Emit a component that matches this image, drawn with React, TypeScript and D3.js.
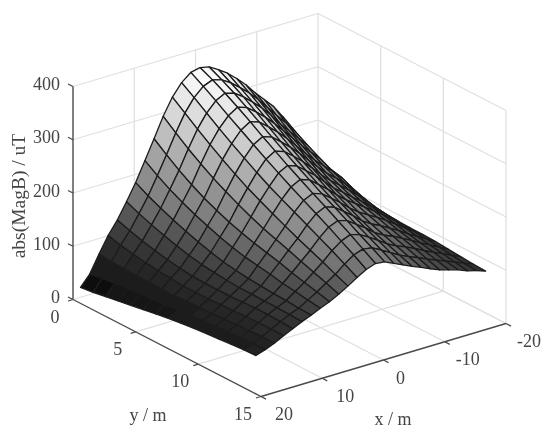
import { useEffect, useRef } from 'react'
import * as d3 from 'd3'

const xValues = [20, 18.5, 17, 15.5, 14, 12.5, 11, 9.5, 8, 6.5, 5, 3.5, 2, 0.5, -1, -2.5, -4, -5.5, -7, -8.5, -10, -11.5, -13, -14.5, -16, -17.5]
const yValues = [0.6, 1.6, 2.6, 3.6, 4.6, 5.6, 6.6, 7.6, 8.6, 9.6, 10.6, 11.6, 12.6, 13.6, 14.6]

// abs(MagB), one row per y value
const magB = [
  [30, 50, 82, 112, 136, 165, 196, 232, 268, 305, 336, 358, 372, 376, 372, 362, 350, 335, 318, 298, 280, 262, 238, 210, 183, 155],
  [33, 54, 80, 106, 128, 155, 183, 216, 250, 286, 318, 342, 358, 365, 360, 349, 335, 320, 302, 282, 262, 243, 222, 193, 166, 140],
  [37, 57, 79, 101, 121, 146, 172, 202, 233, 268, 300, 325, 343, 352, 347, 335, 320, 304, 285, 264, 245, 226, 208, 180, 155, 131],
  [41, 59, 78, 97, 115, 138, 162, 190, 218, 252, 283, 308, 327, 338, 332, 319, 304, 287, 268, 249, 230, 212, 195, 172, 148, 124],
  [45, 61, 78, 94, 110, 131, 153, 179, 205, 237, 267, 292, 312, 323, 317, 303, 288, 271, 252, 233, 215, 199, 183, 166, 144, 119],
  [49, 63, 77, 92, 106, 125, 145, 170, 194, 224, 252, 277, 297, 307, 301, 287, 272, 255, 237, 219, 202, 188, 172, 155, 135, 115],
  [53, 65, 77, 90, 103, 120, 138, 161, 184, 212, 238, 262, 282, 292, 286, 272, 257, 240, 222, 206, 192, 178, 163, 147, 129, 112],
  [57, 67, 78, 90, 102, 117, 132, 154, 176, 201, 226, 248, 268, 277, 271, 257, 243, 226, 209, 196, 182, 169, 155, 141, 126, 111],
  [60, 69, 79, 90, 102, 115, 128, 148, 169, 191, 214, 236, 254, 263, 257, 243, 229, 213, 199, 187, 175, 163, 150, 137, 123, 110],
  [63, 71, 80, 91, 102, 113, 125, 144, 163, 183, 203, 224, 241, 249, 243, 230, 216, 201, 188, 178, 168, 157, 145, 133, 121, 110],
  [65, 73, 82, 92, 103, 113, 123, 140, 157, 175, 192, 212, 228, 236, 230, 217, 204, 189, 178, 170, 160, 150, 139, 129, 119, 109],
  [67, 75, 83, 93, 104, 112, 121, 135, 150, 166, 182, 200, 215, 222, 217, 205, 193, 179, 169, 162, 153, 144, 134, 125, 116, 107],
  [69, 76, 84, 94, 104, 112, 120, 132, 144, 158, 172, 188, 201, 208, 203, 193, 182, 170, 161, 154, 146, 137, 129, 121, 113, 105],
  [71, 78, 85, 94, 103, 111, 118, 128, 138, 150, 161, 175, 187, 193, 190, 181, 171, 161, 153, 146, 138, 131, 124, 117, 110, 103],
  [72, 78, 85, 94, 102, 110, 117, 125, 132, 141, 151, 162, 172, 178, 176, 168, 160, 152, 145, 137, 130, 125, 120, 113, 108, 102],
]

const xTicks = [-20, -10, 0, 10, 20]
const yTicks = [0, 5, 10, 15]
const zTicks = [0, 100, 200, 300, 400]

const FONT = '"Liberation Serif", serif'
const INK = '#444'
const GRID = '#e0e0e0'

const App = () => {
  const ref = useRef<SVGSVGElement>(null)

  useEffect(() => {
    const root = d3.select(ref.current)
    root.selectAll('*').remove()

    // the reference is a soft scan, so everything gets a slight blur
    root.append('defs').append('filter')
      .attr('id', 'soft')
      .append('feGaussianBlur')
      .attr('stdDeviation', 0.45)
    const svg = root.append('g').attr('filter', 'url(#soft)')

    // oblique projection, each data axis adds its own screen offset
    const xToLeft = d3.scaleLinear().domain([20, -20]).range([0, 245])
    const xToUp = d3.scaleLinear().domain([20, -20]).range([0, -73])
    const yToLeft = d3.scaleLinear().domain([0, 15]).range([0, 188])
    const yToUp = d3.scaleLinear().domain([0, 15]).range([0, 97])
    const zToUp = d3.scaleLinear().domain([0, 400]).range([0, -213])

    const px = (x: number, y: number) => 73 + xToLeft(x) + yToLeft(y)
    const py = (x: number, y: number, z: number) => 299.5 + xToUp(x) + yToUp(y) + zToUp(z)

    const gray = d3.scaleLinear<string>()
      .domain([0, 30, 75, 110, 140, 180, 250, 300, 376])
      .range(['#000000', '#0a0a0a', '#202020', '#353535', '#505050', '#7c7c7c', '#a8a8a8', '#d0d0d0', '#ffffff'])

    const seg = (a: number[], b: number[], stroke: string, width: number) => {
      svg.append('line')
        .attr('x1', px(a[0], a[1])).attr('y1', py(a[0], a[1], a[2]))
        .attr('x2', px(b[0], b[1])).attr('y2', py(b[0], b[1], b[2]))
        .attr('stroke', stroke)
        .attr('stroke-width', width)
    }

    // back walls and floor
    zTicks.forEach(z => {
      seg([20, 0, z], [-20, 0, z], GRID, 1.3)
      seg([-20, 0, z], [-20, 15, z], GRID, 1.3)
    })
    xTicks.slice(0, 4).forEach(x => {
      seg([x, 0, 0], [x, 0, 400], GRID, 1.3)
      seg([x, 0, 0], [x, 15, 0], GRID, 1.3)
    })
    yTicks.slice(1).forEach(y => {
      seg([-20, y, 0], [-20, y, 400], GRID, 1.3)
      if (y < 15) seg([-20, y, 0], [20, y, 0], GRID, 1.3)
    })

    // axes
    seg([20, 0, 0], [20, 0, 400], '#4a4a4a', 1.4)
    seg([20, 0, 0], [20, 15, 0], '#4a4a4a', 1.4)
    seg([20, 15, 0], [-20, 15, 0], '#4a4a4a', 1.4)
    const tickLine = (x: number, y: number, z: number, dx: number, dy: number) => {
      svg.append('line')
        .attr('x1', px(x, y)).attr('y1', py(x, y, z))
        .attr('x2', px(x, y) + dx).attr('y2', py(x, y, z) + dy)
        .attr('stroke', '#4a4a4a').attr('stroke-width', 1.3)
    }
    zTicks.forEach(z => tickLine(20, 0, z, -5, -2.5))
    yTicks.forEach(y => tickLine(20, y, 0, -5, 1.5))
    xTicks.forEach(x => tickLine(x, 15, 0, 5, 2.6))

    // surface patches, far ones first
    const patches: { pts: [number, number][]; z: number; depth: number }[] = []
    for (let j = 0; j < yValues.length - 1; j++) {
      for (let i = 0; i < xValues.length - 1; i++) {
        const corners = [[i, j], [i + 1, j], [i + 1, j + 1], [i, j + 1]]
        const zs = corners.map(([a, b]) => magB[b][a])
        patches.push({
          pts: corners.map(([a, b]) => [px(xValues[a], yValues[b]), py(xValues[a], yValues[b], magB[b][a])]),
          z: d3.mean(zs) as number,
          depth: py(xValues[i], yValues[j], 0),
        })
      }
    }
    patches.sort((a, b) => a.depth - b.depth)
    const line = d3.line().curve(d3.curveLinearClosed)
    svg.append('g').selectAll('path')
      .data(patches)
      .enter().append('path')
      .attr('d', d => line(d.pts))
      .attr('fill', d => gray(d.z))
      .attr('stroke', '#1c1c1c')
      .attr('stroke-width', 1.3)
      .attr('stroke-linejoin', 'round')

    // labels
    const label = (x: number, y: number, s: string, anchor = 'middle') =>
      svg.append('text')
        .attr('x', x).attr('y', y)
        .attr('text-anchor', anchor)
        .attr('font-family', FONT)
        .attr('font-size', 18)
        .attr('fill', INK)
        .text(s)

    zTicks.forEach(z => label(60, py(20, 0, z) + 3.5, String(z), 'end'))
    yTicks.forEach(y => label(px(20, y) - 18, py(20, y, 0) + 23, String(y)))
    xTicks.forEach(x => label(px(x, 15) + (x === 0 ? 17 : 23), py(x, 15, 0) + 23.5, String(x)))
    label(148, 421, 'y / m')
    label(393, 425, 'x / m')
    svg.append('text')
      .attr('transform', 'translate(25,196) rotate(-90)')
      .attr('text-anchor', 'middle')
      .attr('font-family', FONT)
      .attr('font-size', 19.5)
      .attr('fill', INK)
      .text('abs(MagB) / uT')
  }, [])

  return <svg ref={ref} width={550} height={440} style={{ position: 'absolute', left: 0, top: 0, background: '#fff' }} />
}

export default App
